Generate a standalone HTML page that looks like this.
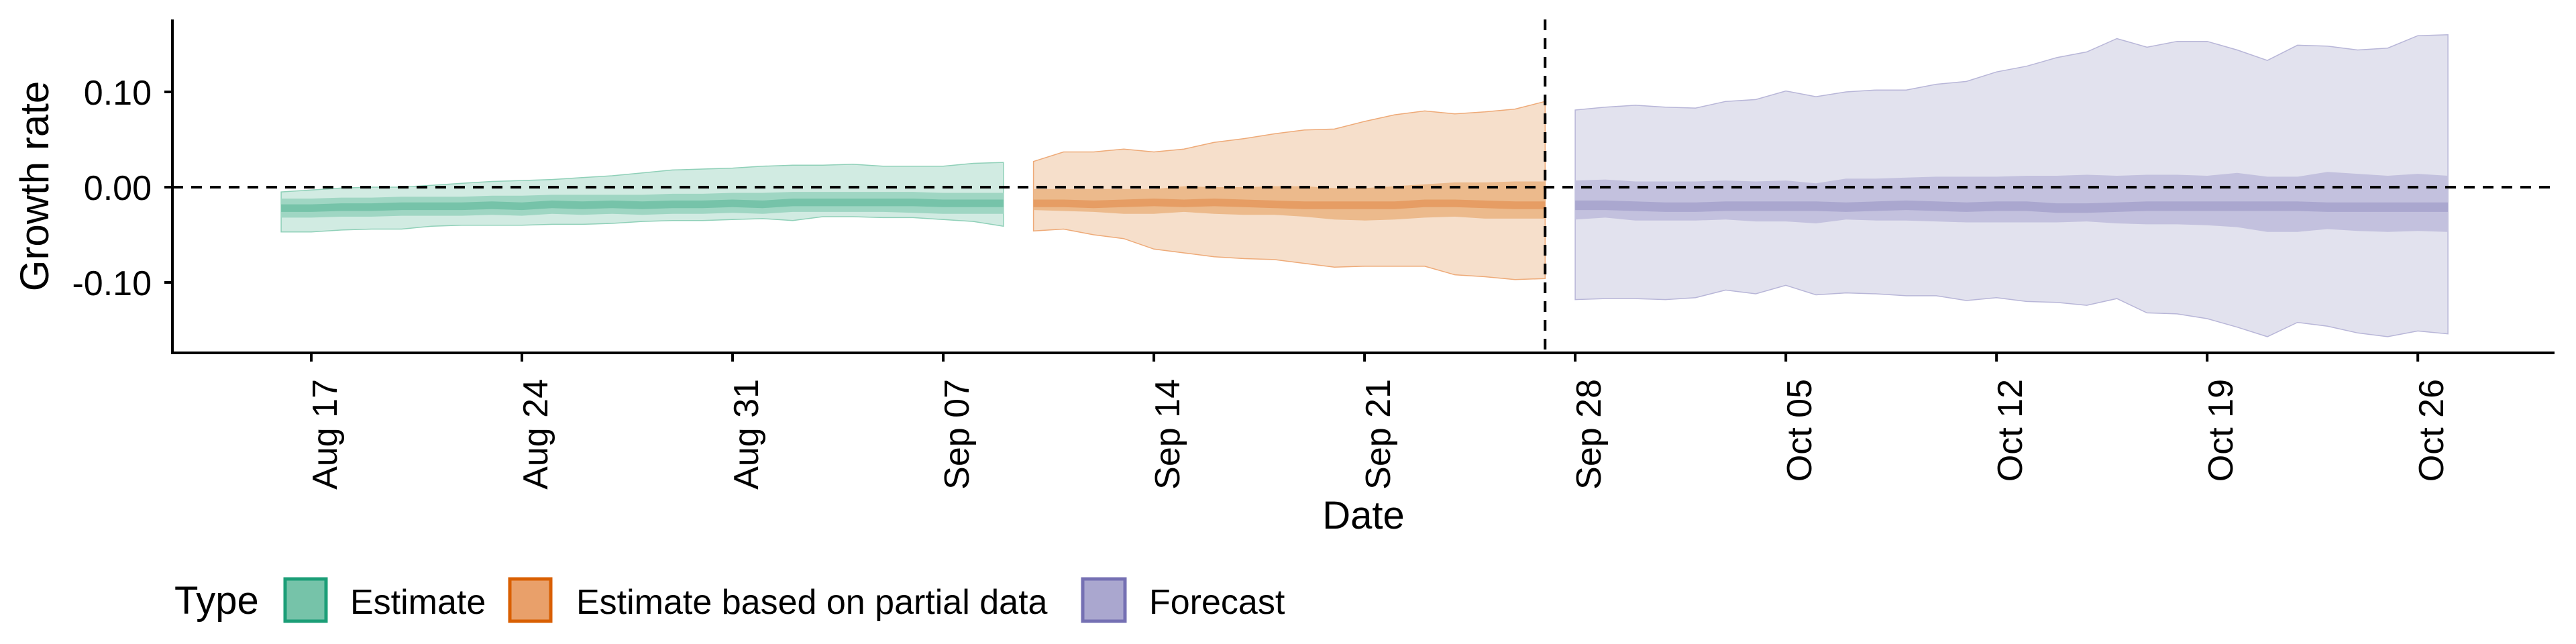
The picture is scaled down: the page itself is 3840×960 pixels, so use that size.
<!DOCTYPE html>
<html><head><meta charset="utf-8"><style>
html,body{margin:0;padding:0;background:#fff;}
svg{display:block;font-family:"Liberation Sans",sans-serif;}
</style></head><body>
<svg id="chart" width="3840" height="960" viewBox="0 0 3840 960" xmlns="http://www.w3.org/2000/svg">
<g id="bands"></g>
<g id="axes"></g>
<g id="legend">
  <text x="260" y="915" font-size="58">Type</text>
  <rect x="425" y="863" width="61" height="63" fill="#76c3a9" stroke="#1b9e77" stroke-width="5"/>
  <text x="522" y="915" font-size="52">Estimate</text>
  <rect x="760" y="863" width="61" height="63" fill="#e9a06a" stroke="#d95f02" stroke-width="5"/>
  <text x="859" y="915" font-size="52">Estimate based on partial data</text>
  <rect x="1614" y="863" width="63" height="63" fill="#aaa7cf" stroke="#7570b3" stroke-width="5"/>
  <text x="1713" y="915" font-size="52">Forecast</text>
</g>
</svg>
<script>
// ---- data ----
const estStart = "2020-08-16";
const estLo90 = [-0.047,-0.047,-0.045,-0.044,-0.044,-0.041,-0.040,-0.040,-0.040,-0.039,-0.039,-0.038,-0.036,-0.035,-0.035,-0.034,-0.033,-0.035,-0.031,-0.031,-0.032,-0.032,-0.034,-0.036,-0.041];
const estLo50 = [-0.032,-0.032,-0.031,-0.031,-0.030,-0.030,-0.030,-0.029,-0.030,-0.028,-0.029,-0.028,-0.029,-0.028,-0.028,-0.027,-0.028,-0.026,-0.026,-0.026,-0.026,-0.027,-0.028,-0.028,-0.028];
const estLo20 = [-0.026,-0.026,-0.025,-0.025,-0.024,-0.024,-0.024,-0.023,-0.024,-0.022,-0.023,-0.022,-0.023,-0.022,-0.022,-0.021,-0.022,-0.020,-0.020,-0.020,-0.020,-0.020,-0.021,-0.021,-0.021];
const estHi20 = [-0.018,-0.018,-0.017,-0.017,-0.016,-0.016,-0.016,-0.015,-0.016,-0.014,-0.015,-0.014,-0.015,-0.014,-0.014,-0.013,-0.014,-0.012,-0.012,-0.012,-0.012,-0.012,-0.013,-0.013,-0.013];
const estHi50 = [-0.012,-0.012,-0.011,-0.011,-0.010,-0.010,-0.010,-0.009,-0.009,-0.008,-0.008,-0.008,-0.008,-0.007,-0.007,-0.006,-0.006,-0.005,-0.005,-0.005,-0.005,-0.005,-0.006,-0.006,-0.006];
const estHi90 = [-0.005,-0.003,-0.001,0.000,0.000,0.002,0.004,0.006,0.007,0.008,0.010,0.012,0.015,0.018,0.019,0.020,0.022,0.023,0.023,0.024,0.022,0.022,0.022,0.025,0.026];

const parStart = "2020-09-10";
const parLo90 = [-0.046,-0.044,-0.050,-0.054,-0.065,-0.069,-0.073,-0.075,-0.076,-0.080,-0.084,-0.083,-0.083,-0.083,-0.092,-0.094,-0.097,-0.096];
const parLo50 = [-0.024,-0.025,-0.026,-0.028,-0.028,-0.026,-0.028,-0.029,-0.029,-0.031,-0.034,-0.035,-0.034,-0.032,-0.031,-0.033,-0.033,-0.033];
const parLo20 = [-0.021,-0.021,-0.022,-0.021,-0.020,-0.021,-0.020,-0.021,-0.022,-0.023,-0.023,-0.023,-0.023,-0.021,-0.021,-0.022,-0.023,-0.023];
const parHi20 = [-0.013,-0.013,-0.014,-0.013,-0.012,-0.013,-0.012,-0.013,-0.014,-0.015,-0.015,-0.015,-0.015,-0.013,-0.013,-0.014,-0.015,-0.015];
const parHi50 = [-0.002,-0.002,-0.002,-0.002,-0.002,0.001,0.000,0.000,0.001,0.001,-0.001,-0.001,0.001,0.003,0.005,0.005,0.006,0.006];
const parHi90 = [0.027,0.037,0.037,0.040,0.037,0.040,0.047,0.051,0.056,0.060,0.061,0.069,0.076,0.080,0.077,0.079,0.082,0.090];

const fcStart = "2020-09-28";
const fcLo90 = [-0.118,-0.117,-0.117,-0.118,-0.116,-0.108,-0.112,-0.103,-0.113,-0.111,-0.112,-0.114,-0.114,-0.119,-0.116,-0.120,-0.121,-0.124,-0.117,-0.132,-0.133,-0.138,-0.147,-0.157,-0.142,-0.146,-0.153,-0.157,-0.151,-0.154];
const fcLo50 = [-0.034,-0.032,-0.035,-0.035,-0.035,-0.034,-0.036,-0.036,-0.038,-0.034,-0.035,-0.035,-0.036,-0.037,-0.037,-0.037,-0.037,-0.036,-0.038,-0.039,-0.039,-0.040,-0.042,-0.047,-0.047,-0.044,-0.046,-0.047,-0.046,-0.047];
const fcLo20 = [-0.024,-0.024,-0.025,-0.026,-0.026,-0.025,-0.025,-0.025,-0.025,-0.026,-0.025,-0.024,-0.025,-0.026,-0.025,-0.025,-0.027,-0.027,-0.026,-0.025,-0.025,-0.025,-0.025,-0.025,-0.025,-0.026,-0.026,-0.026,-0.026,-0.026];
const fcHi20 = [-0.014,-0.014,-0.015,-0.016,-0.016,-0.015,-0.015,-0.015,-0.015,-0.016,-0.015,-0.014,-0.015,-0.016,-0.015,-0.015,-0.017,-0.017,-0.016,-0.015,-0.015,-0.015,-0.015,-0.015,-0.015,-0.016,-0.016,-0.016,-0.016,-0.016];
const fcHi50 = [0.007,0.008,0.006,0.006,0.006,0.007,0.006,0.007,0.004,0.009,0.009,0.010,0.011,0.011,0.011,0.012,0.012,0.013,0.012,0.013,0.013,0.012,0.015,0.011,0.011,0.016,0.014,0.012,0.014,0.012];
const fcHi90 = [0.081,0.084,0.086,0.084,0.083,0.090,0.092,0.101,0.095,0.100,0.102,0.102,0.108,0.111,0.121,0.127,0.136,0.142,0.156,0.147,0.153,0.153,0.144,0.133,0.149,0.148,0.144,0.146,0.159,0.160];

const yTicks = [0.10, 0.00, -0.10];
const yTickLabels = ["0.10", "0.00", "-0.10"];
const xTickDates = ["2020-08-17","2020-08-24","2020-08-31","2020-09-07","2020-09-14","2020-09-21","2020-09-28","2020-10-05","2020-10-12","2020-10-19","2020-10-26"];
const xTickLabels = ["Aug 17","Aug 24","Aug 31","Sep 07","Sep 14","Sep 21","Sep 28","Oct 05","Oct 12","Oct 19","Oct 26"];
const forecastDate = "2020-09-27";

// ---- scales ----
const NS = "http://www.w3.org/2000/svg";
const DAY = 86400000;
const refDate = Date.parse("2020-08-17T00:00:00Z");
const PX_PER_DAY = 44.86, X_REF = 464;
const Y0 = 279, PX_PER_UNIT = 1420;
const PLOT_L = 257, PLOT_R = 3808, PLOT_T = 29, PLOT_B = 526;
function xDate(d){ return X_REF + (Date.parse(d+"T00:00:00Z") - refDate)/DAY*PX_PER_DAY; }
function xIdx(start,i){ return xDate(start) + i*PX_PER_DAY; }
function y(v){ return Y0 - v*PX_PER_UNIT; }
function el(tag, attrs, parent){ const e=document.createElementNS(NS,tag); for(const k in attrs) e.setAttribute(k,attrs[k]); parent.appendChild(e); return e; }

const bands = document.getElementById('bands');
function band(start, lo, hi, fill, stroke, name){
  let d = "";
  for(let i=0;i<hi.length;i++) d += (i?"L":"M")+xIdx(start,i).toFixed(1)+","+y(hi[i]).toFixed(1);
  for(let i=lo.length-1;i>=0;i--) d += "L"+xIdx(start,i).toFixed(1)+","+y(lo[i]).toFixed(1);
  d += "Z";
  const p = el('path',{d:d, fill:fill, stroke:stroke, 'stroke-width':stroke==='none'?0:1.5}, bands);
  
  
}
band(estStart, estLo90, estHi90, "#d1ebe2", "#8fd0b8", "estimate-band-90");
band(estStart, estLo50, estHi50, "#9fd6c3", "none", "estimate-band-50");
band(estStart, estLo20, estHi20, "#76c3a9", "none", "estimate-band-20");
band(parStart, parLo90, parHi90, "#f6dfcb", "#eeaa78", "partial-band-90");
band(parStart, parLo50, parHi50, "#ecba8c", "none", "partial-band-50");
band(parStart, parLo20, parHi20, "#e69d64", "none", "partial-band-20");
band(fcStart, fcLo90, fcHi90, "#e2e2ee", "#b8b6d8", "forecast-band-90");
band(fcStart, fcLo50, fcHi50, "#c3c1de", "none", "forecast-band-50");
band(fcStart, fcLo20, fcHi20, "#aaa7cf", "none", "forecast-band-20");

// ---- axes ----
const axes = document.getElementById('axes');
let e;
e = el('line',{x1:PLOT_L,y1:y(0),x2:PLOT_R,y2:y(0),stroke:"#000","stroke-width":4,"stroke-dasharray":"16 12"},axes);


const vx = xDate(forecastDate);
e = el('line',{x1:vx,y1:PLOT_T,x2:vx,y2:PLOT_B,stroke:"#000","stroke-width":4,"stroke-dasharray":"16 12"},axes);


e = el('line',{x1:PLOT_L,y1:PLOT_T,x2:PLOT_L,y2:PLOT_B+2,stroke:"#000","stroke-width":4},axes);


e = el('line',{x1:PLOT_L-2,y1:PLOT_B,x2:PLOT_R,y2:PLOT_B,stroke:"#000","stroke-width":4},axes);


yTicks.forEach((v,i)=>{
  let t = el('line',{x1:PLOT_L-12,y1:y(v),x2:PLOT_L,y2:y(v),stroke:"#000","stroke-width":4},axes);
  
  
  let l = el('text',{x:226,y:y(v)+19,"font-size":52,"text-anchor":"end"},axes);
  l.textContent = yTickLabels[i];
  
  
});
xTickDates.forEach((d,i)=>{
  const x = xDate(d);
  let t = el('line',{x1:x,y1:PLOT_B,x2:x,y2:PLOT_B+13,stroke:"#000","stroke-width":4},axes);
  
  
  let l = el('text',{transform:"translate("+(x+38)+",565) rotate(-90)","font-size":52,"text-anchor":"end"},axes);
  l.textContent = xTickLabels[i];
  
  
});
e = el('text',{x:(PLOT_L+PLOT_R)/2,y:788,"font-size":58,"text-anchor":"middle"},axes);
e.textContent = "Date";


e = el('text',{transform:"translate(72,"+((PLOT_T+PLOT_B)/2)+") rotate(-90)","font-size":60,"text-anchor":"middle"},axes);
e.textContent = "Growth rate";


</script>
</body></html>
